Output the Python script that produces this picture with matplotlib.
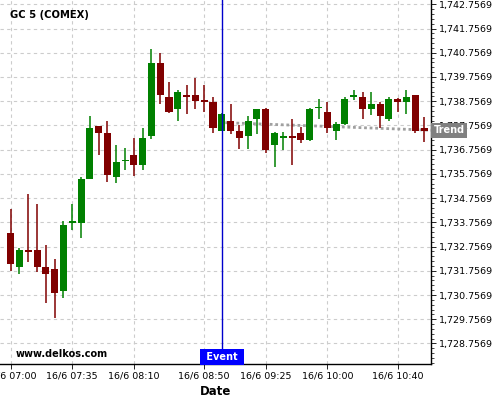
import numpy as np
import matplotlib
matplotlib.use("Agg")
import matplotlib.pyplot as plt
import matplotlib.dates as mdates
import matplotlib.transforms as mtrans
from matplotlib.ticker import FuncFormatter, AutoMinorLocator
import pandas as pd

times = pd.date_range("2020-06-16 07:00", periods=48, freq="5min")

opens = [1733.32, 1731.93, 1732.62, 1732.62, 1731.92, 1731.84, 1730.94, 1733.75, 1733.74, 1735.56,
         1737.73, 1737.45, 1735.64, 1736.27, 1736.54, 1736.13, 1737.32, 1740.33, 1738.93, 1738.45,
         1739.01, 1739.01, 1738.78, 1738.72, 1737.53, 1737.94, 1737.53, 1737.33, 1738.04, 1738.44,
         1736.96, 1737.25, 1737.28, 1737.44, 1737.14, 1738.46, 1738.31, 1737.54, 1737.83, 1738.93,
         1738.93, 1738.44, 1738.64, 1738.04, 1738.85, 1738.74, 1739.01, 1737.65]
closes = [1732.05, 1732.62, 1732.55, 1731.93, 1731.64, 1730.85, 1733.65, 1733.77, 1735.55, 1737.65,
          1737.46, 1735.72, 1736.25, 1736.32, 1736.13, 1737.24, 1740.35, 1739.03, 1738.32, 1739.14,
          1738.94, 1738.75, 1738.73, 1737.65, 1738.23, 1737.54, 1737.25, 1737.94, 1738.44, 1736.74,
          1737.44, 1737.30, 1737.25, 1737.14, 1738.44, 1738.52, 1737.66, 1737.80, 1738.85, 1739.01,
          1738.44, 1738.64, 1738.16, 1738.85, 1738.74, 1738.92, 1737.54, 1737.54]
highs = [1734.32, 1732.71, 1734.91, 1734.50, 1732.81, 1732.23, 1733.80, 1734.50, 1735.63, 1738.13,
         1737.75, 1737.94, 1736.94, 1736.81, 1737.23, 1737.64, 1740.90, 1740.73, 1739.54, 1739.21,
         1739.43, 1739.70, 1739.41, 1738.93, 1738.25, 1738.63, 1737.79, 1738.13, 1738.44, 1738.46,
         1737.49, 1737.49, 1738.01, 1737.71, 1738.46, 1738.85, 1738.71, 1737.91, 1738.92, 1739.22,
         1739.12, 1739.12, 1738.71, 1738.92, 1738.87, 1739.22, 1739.03, 1738.12]
lows = [1731.75, 1731.61, 1732.12, 1731.72, 1730.42, 1729.80, 1730.62, 1733.43, 1733.10, 1735.53,
        1736.52, 1735.41, 1735.39, 1735.92, 1735.68, 1735.92, 1737.21, 1738.64, 1738.28, 1737.93,
        1738.23, 1738.42, 1738.31, 1737.46, 1737.51, 1737.42, 1736.80, 1736.80, 1737.42, 1736.61,
        1736.05, 1736.73, 1736.11, 1737.03, 1737.12, 1738.01, 1737.43, 1737.16, 1737.79, 1738.82,
        1738.01, 1738.20, 1737.65, 1737.93, 1738.30, 1738.22, 1737.46, 1737.09]

event_time = "2020-06-16 09:00"
trend_times = ["2020-06-16 09:02", "2020-06-16 10:59"]
trend_values = [1737.87, 1737.56]

tick_times = ["2020-06-16 07:00", "2020-06-16 07:35", "2020-06-16 08:10", "2020-06-16 08:50",
              "2020-06-16 09:25", "2020-06-16 10:00", "2020-06-16 10:40"]
tick_labels = ["16/6 07:00", "16/6 07:35", "16/6 08:10", "16/6 08:50",
               "16/6 09:25", "16/6 10:00", "16/6 10:40"]
y_ticks = [1728.7569 + k for k in range(15)]

x = mdates.date2num(times.to_pydatetime())
o = np.array(opens)
c = np.array(closes)
up = c >= o
colors = np.where(up, "#008000", "#800000")

fig = plt.figure(figsize=(5, 4), dpi=100)
ax = fig.add_axes([0, 0.09, 0.862, 0.91])

width = 4 / 1440
ax.vlines(x, lows, highs, colors=colors, lw=1.1, zorder=3)
bottoms = np.minimum(o, c)
heights = np.maximum(np.abs(c - o), 0.07)
ax.bar(x, heights, width, bottom=bottoms, color=colors, zorder=4)

ev = mdates.date2num(pd.Timestamp(event_time))
ax.axvline(ev, color="#0000cc", lw=1, zorder=5)

tx = mdates.date2num(pd.to_datetime(trend_times).to_pydatetime())
ax.plot(tx, trend_values, color="#a0a0a0", lw=2, ls=(0, (1, 1)), zorder=2)

ax.set_xlim(mdates.date2num(pd.Timestamp("2020-06-16 06:53:55")),
            mdates.date2num(pd.Timestamp("2020-06-16 10:58:56")))
ax.set_ylim(1727.91, 1742.934)

ax.set_xticks(mdates.date2num(pd.to_datetime(tick_times).to_pydatetime()), labels=tick_labels)
ax.set_yticks(y_ticks)
ax.yaxis.set_major_formatter(FuncFormatter(lambda v, p: "{:,.4f}".format(v)))
ax.yaxis.set_minor_locator(AutoMinorLocator(5))
ax.yaxis.tick_right()
ax.tick_params(axis="both", which="major", labelsize=6.8, length=3.5, width=0.6, pad=2)
ax.tick_params(axis="y", which="minor", length=2, width=0.5)
ax.grid(True, color="#cccccc", ls=(0, (3, 3)), lw=0.8)
ax.set_axisbelow(True)

for s in ["top", "left"]:
    ax.spines[s].set_visible(False)
ax.spines["right"].set_linewidth(1)
ax.spines["bottom"].set_linewidth(1)

ax.set_xlabel("Date", fontsize=8.5, fontweight="bold", labelpad=3)

ax.text(0.023, 0.959, "GC 5 (COMEX)", transform=ax.transAxes, fontsize=7.2,
        fontweight="bold", ha="left", va="center")
ax.text(0.036, 0.027, "www.delkos.com", transform=ax.transAxes, fontsize=7,
        fontweight="bold", ha="left", va="center")

blend = mtrans.blended_transform_factory(ax.transData, ax.transAxes)
ax.text(ev, 0.019, " Event ", transform=blend, fontsize=7, fontweight="bold", color="white",
        ha="center", va="center", zorder=6,
        bbox=dict(boxstyle="square,pad=0.3", fc="#0000ff", ec="none"))

blend2 = mtrans.blended_transform_factory(ax.transAxes, ax.transData)
ax.text(1.006, trend_values[-1], "Trend", transform=blend2, fontsize=7, fontweight="bold",
        color="white", ha="left", va="center", zorder=6, clip_on=False,
        bbox=dict(boxstyle="square,pad=0.25", fc="#808080", ec="none"))

fig.savefig("out.png", dpi=100)
